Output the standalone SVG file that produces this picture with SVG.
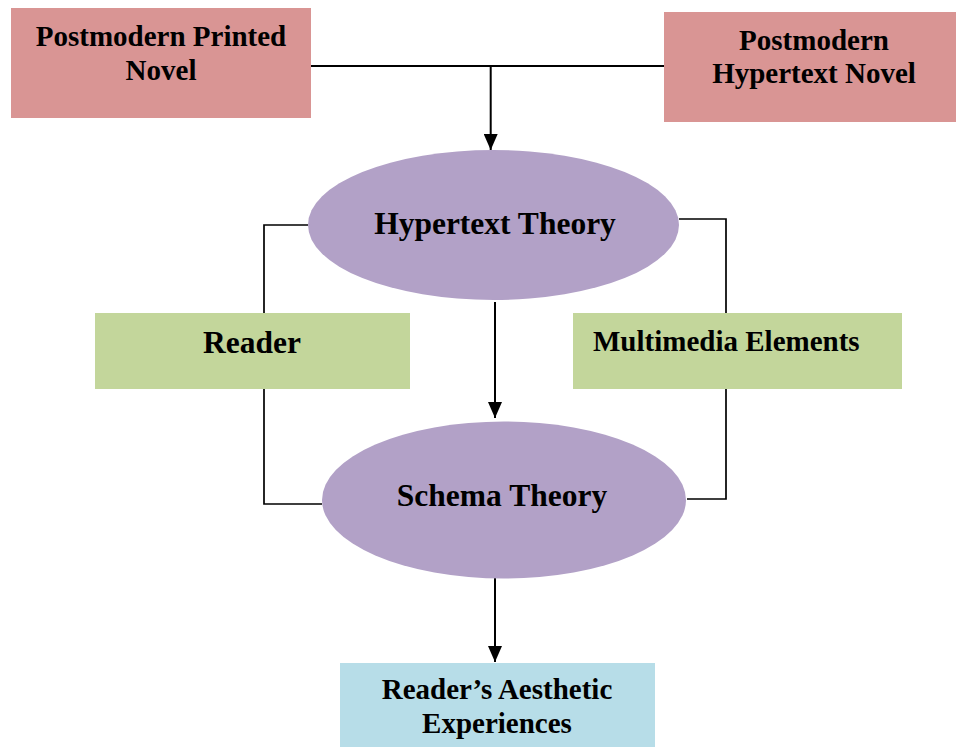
<svg xmlns="http://www.w3.org/2000/svg" width="956" height="747" viewBox="0 0 956 747">
<defs>
<style>
.t{font-family:"Liberation Serif","Times New Roman",serif;font-weight:bold;fill:#000}
.b{font-size:29px}
.e{font-size:31.5px}
.c{fill:none;stroke:#000;stroke-width:2}
.s{fill:none;stroke:#000;stroke-width:1.7}
</style>
<marker id="ah" viewBox="0 0 16 14" refX="16" refY="7" markerWidth="16" markerHeight="14" markerUnits="userSpaceOnUse" orient="auto">
<path d="M0,0 L16,7 L0,14 Z" fill="#000"/>
</marker>
</defs>
<rect width="956" height="747" fill="#fff"/>
<g id="connectors">
<path class="c" d="M311,66 H664"/>
<path class="c" d="M490.7,66 V150" marker-end="url(#ah)"/>
<path class="c" d="M495,302 V418" marker-end="url(#ah)"/>
<path class="c" d="M495,578 V662" marker-end="url(#ah)"/>
<path class="s" d="M308,225 H264 V313"/>
<path class="s" d="M264,389 V504 H322"/>
<path class="s" d="M679,219 H726 V313"/>
<path class="s" d="M726,389 V499 H687"/>
</g>
<g id="printed">
<rect x="11" y="8" width="300" height="110" fill="#D99594"/>
<text class="t b" x="161" y="46" text-anchor="middle">Postmodern Printed</text>
<text class="t b" x="161" y="80" text-anchor="middle">Novel</text>
</g>
<g id="hypertextnovel">
<rect x="664" y="12" width="292" height="110" fill="#D99594"/>
<text class="t b" x="814" y="50" text-anchor="middle">Postmodern</text>
<text class="t b" x="814" y="83" text-anchor="middle">Hypertext Novel</text>
</g>
<g id="hypertexttheory">
<ellipse cx="493.5" cy="225" rx="185.5" ry="75" fill="#B2A1C7"/>
<text class="t e" x="495" y="234" text-anchor="middle">Hypertext Theory</text>
</g>
<g id="reader">
<rect x="95" y="313" width="315" height="76" fill="#C3D69B"/>
<text class="t e" x="252" y="353" text-anchor="middle">Reader</text>
</g>
<g id="multimedia">
<rect x="573" y="313" width="329" height="76" fill="#C3D69B"/>
<text class="t b" x="593" y="351">Multimedia Elements</text>
</g>
<g id="schematheory">
<ellipse cx="504" cy="500" rx="182" ry="78.5" fill="#B2A1C7"/>
<text class="t e" x="502" y="506" text-anchor="middle">Schema Theory</text>
</g>
<g id="aesthetic">
<rect x="340" y="663" width="315" height="84" fill="#B7DDE8"/>
<text class="t b" x="497" y="699" text-anchor="middle">Reader’s Aesthetic</text>
<text class="t b" x="497" y="733" text-anchor="middle">Experiences</text>
</g>
</svg>
